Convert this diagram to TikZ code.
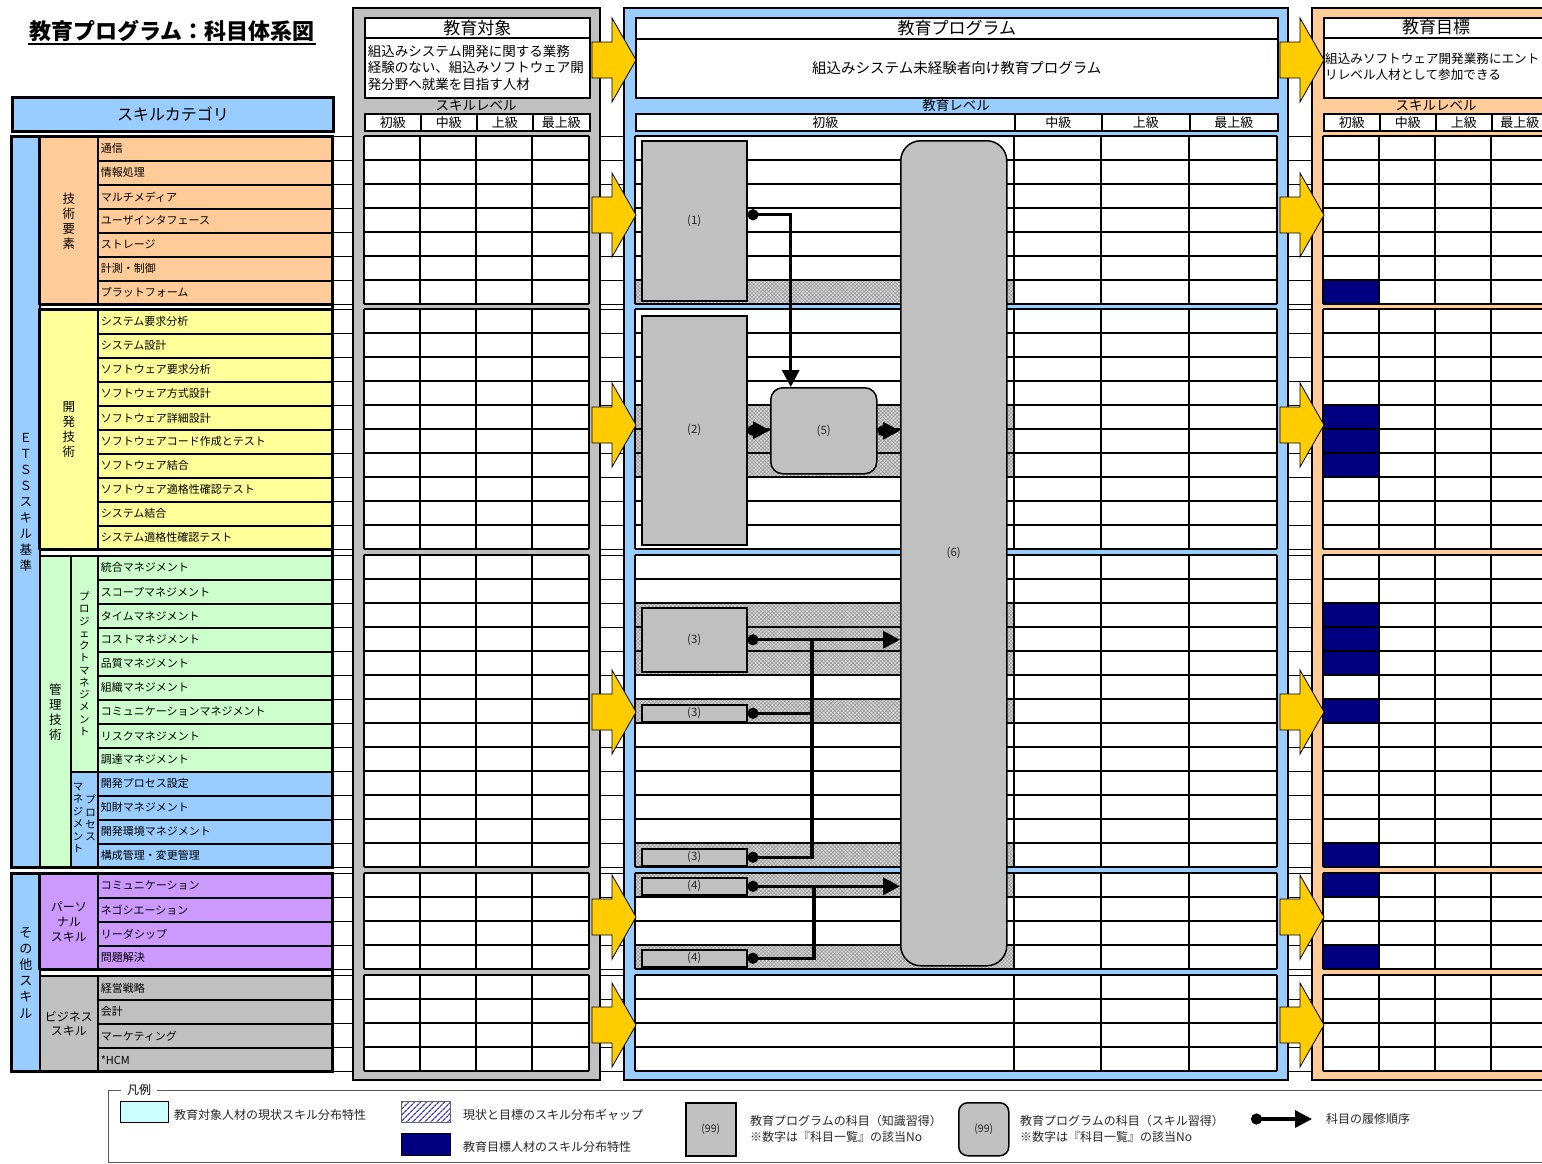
\documentclass[tikz,border=0pt]{standalone}
\usepackage{fontspec}
\setmainfont{Noto Sans CJK JP}
\usetikzlibrary{patterns.meta,arrows.meta}
\definecolor{techc}{HTML}{FFCC99}
\definecolor{devc}{HTML}{FFFF99}
\definecolor{pmc}{HTML}{CCFFCC}
\definecolor{bluec}{HTML}{99CCFF}
\definecolor{persc}{HTML}{CC99FF}
\definecolor{busc}{HTML}{C0C0C0}
\definecolor{navyc}{HTML}{000080}
\definecolor{arrowc}{HTML}{FFCC00}
\definecolor{cyanc}{HTML}{CCFFFF}
\definecolor{hatchc}{HTML}{3333CC}
\newcommand{\myfs}[2]{\fontsize{#1}{#2}\selectfont}
\tikzset{
  itemcell/.style={draw=black, line width=1.6pt, anchor=north west, minimum width=235pt, minimum height=24pt, text width=229pt, inner xsep=3pt, inner ysep=0pt, align=left, font=\myfs{11}{13}},
  catbox/.style={draw=black, line width=1.6pt, anchor=north west, inner sep=0pt, align=center},
  plain/.style={inner sep=0pt, align=center},
  hdr/.style={draw=black, line width=1.6pt, fill=white, minimum height=17pt, inner sep=0pt, anchor=north west, font=\myfs{13}{15}},
  titbox/.style={draw=black, line width=1.6pt, fill=white, inner sep=0pt, anchor=north west},
  subj/.style={draw=black, line width=1.5pt, fill=busc, anchor=north west, inner sep=0pt, font=\myfs{11.5}{12}, text=black!85},
  conn/.style={line width=3.3pt, {Circle[length=11pt,width=11pt]}-{Triangle[length=17pt,width=17pt]}},
  branch/.style={line width=3.3pt, {Circle[length=11pt,width=11pt]}-},
  gridl/.style={line width=1.6pt, black},
  gapfill/.style={fill=gray!28, postaction={pattern={Hatch[angle=45,distance=2.6pt,line width=0.55pt]}, pattern color=gray!85}},
  yarrow/.pic={\draw[line width=0.8pt, fill=arrowc] (0,-18) -- (20,-18) -- (20,-42) -- (44,0) -- (20,42) -- (20,18) -- (0,18) -- cycle;},
  legtext/.style={anchor=west, inner sep=0pt, font=\myfs{12}{16}, align=left, text=black!85},
}
\begin{document}
\begin{tikzpicture}[x=1pt,y=-1pt]
\useasboundingbox (0,0) rectangle (1542,1163);
\fill[white] (0,0) rectangle (1542,1163);

% title
\node[inner sep=1pt, font=\bfseries\myfs{22}{24}] (title) at (172,31) {教育プログラム：科目体系図};
\draw[line width=1.5pt] ([yshift=-1pt]title.south west) -- ([yshift=-1pt]title.south east);

% background row lines between panels
\foreach \ty/\nr in {136/7,309/10,555/13,873/4,975/4}{
  \foreach \kk in {0,...,\nr}{
    \draw[line width=1pt] (332,\ty+24*\kk) -- (1312,\ty+24*\kk);
  }
}

% panels
\draw[line width=1.6pt, fill=busc] (353,8) rectangle (600,1080);
\draw[line width=1.6pt, fill=bluec] (624,8) rectangle (1288,1080);
\draw[line width=1.6pt, fill=techc] (1312,8) rectangle (1560,1080);

% panel titles
\node[titbox, minimum width=225pt, minimum height=20pt, font=\myfs{17}{19}] (p1t) at (364,17) {教育対象};
\node[titbox, minimum width=225pt, minimum height=60pt, text width=219pt, align=left, font=\myfs{13.5}{16.5}] (p1d) at (364,37) {組込みシステム開発に関する業務\\経験のない、組込みソフトウェア開\\発分野へ就業を目指す人材};
\node[titbox, minimum width=642pt, minimum height=21pt, font=\myfs{17}{19}] (p2t) at (635,17) {教育プログラム};
\node[titbox, minimum width=642pt, minimum height=59pt, font=\myfs{14.5}{17}] (p2d) at (635,38) {組込みシステム未経験者向け教育プログラム};
\node[titbox, minimum width=240pt, minimum height=20pt] (p3t) at (1323,17) {};
\node[plain, font=\myfs{17}{19}] (p3tt) at (1436,27) {教育目標};
\node[titbox, minimum width=240pt, minimum height=60pt] (p3d) at (1323,37) {};
\node[anchor=west, inner sep=0pt, align=left, font=\myfs{12.6}{16}] (p3dt) at (1325,67) {組込みソフトウェア開発業務にエント\\リレベル人材として参加できる};

\node[plain, font=\myfs{13.5}{15}] (p1l) at (476,105) {スキルレベル};
\node[plain, font=\myfs{13.5}{15}] (p2l) at (956,105) {教育レベル};
\node[plain, font=\myfs{13.5}{15}] (p3l) at (1436,105) {スキルレベル};

% header rows
\foreach \xx/\ww/\hlab [count=\i] in {364/56/初級,420/56/中級,476/56/上級,532/57/最上級}
  \node[hdr, minimum width=\ww] (ha\i) at (\xx,113) {\hlab};
\foreach \xx/\ww/\hlab [count=\i] in {635/379/初級,1014/87/中級,1101/88/上級,1189/88/最上級}
  \node[hdr, minimum width=\ww] (hb\i) at (\xx,113) {\hlab};
\foreach \xx/\ww/\hlab [count=\i] in {1323/56/初級,1379/56/中級,1435/56/上級,1491/56/最上級}
  \node[hdr, minimum width=\ww] (hc\i) at (\xx,113) {\hlab};

% block fills
\foreach \ty/\nr in {136/7,309/10,555/13,873/4,975/4}{
  \fill[white] (364,\ty) rectangle (589,\ty+24*\nr);
  \fill[white] (635,\ty) rectangle (1277,\ty+24*\nr);
  \fill[white] (1323,\ty) rectangle (1560,\ty+24*\nr);
}
% gap rows and target rows
\foreach \ya/\yb in {280/304,405/477,603/675,699/723,843/867,873/897,945/969}{
  \path[gapfill] (635,\ya) rectangle (1014,\yb);
  \fill[navyc] (1323,\ya) rectangle (1379,\yb);
}
% grid lines
\foreach \ty/\nr in {136/7,309/10,555/13,873/4,975/4}{
  \foreach \kk in {0,...,\nr}{
    \draw[gridl] (364,\ty+24*\kk) -- (589,\ty+24*\kk);
    \draw[gridl] (635,\ty+24*\kk) -- (1277,\ty+24*\kk);
    \draw[gridl] (1323,\ty+24*\kk) -- (1560,\ty+24*\kk);
  }
  \foreach \xx in {364,420,476,532,589,635,1014,1101,1189,1277,1323,1379,1435,1491}{
    \draw[gridl] (\xx,\ty) -- (\xx,\ty+24*\nr);
  }
}

% subjects
\node[subj, minimum width=105, minimum height=160] (n1) at (641,140) {(1)};
\node[subj, minimum width=105, minimum height=229] (n2) at (641,315) {(2)};
\node[subj, rounded corners=12pt, minimum width=106, minimum height=86] (n5) at (770,387) {(5)};
\node[subj, rounded corners=20pt, minimum width=106, minimum height=825] (n6) at (900,140) {(6)};
\node[subj, minimum width=105, minimum height=64] (n3a) at (641,607) {(3)};
\node[subj, minimum width=105, minimum height=17] (n3b) at (641,704) {(3)};
\node[subj, minimum width=105, minimum height=17] (n3c) at (641,848) {(3)};
\node[subj, minimum width=105, minimum height=17] (n4a) at (641,877) {(4)};
\node[subj, minimum width=105, minimum height=17] (n4b) at (641,949) {(4)};

% connectors
\draw[conn] ([yshift=6pt]n1.east) -| ([xshift=-33pt]n5.north);
\draw[conn] (n2.east) -- (n2.east -| n5.west);
\draw[conn] (n5.east) -- (n5.east -| n6.west);
\draw[conn] (n3a.east) -- (n3a.east -| n6.west);
\coordinate (j3) at (812,639);
\draw[branch] (n3b.east) -| (j3);
\draw[branch] (n3c.east) -| (j3);
\draw[conn] (n4a.east) -- (n4a.east -| n6.west);
\coordinate (j4) at (814,885.5);
\draw[branch] (n4b.east) -| (j4);

% block arrows
\foreach \yy in {60,215,425,712,917,1025}{
  \pic at (592,\yy) {yarrow};
  \pic at (1280,\yy) {yarrow};
}

% left: skill categories
\node[draw, line width=3pt, fill=bluec, anchor=north west, minimum width=321pt, minimum height=34pt, inner sep=0pt, font=\myfs{16}{18}] (skcat) at (11,96) {スキルカテゴリ};

\node[catbox, fill=bluec, minimum width=28, minimum height=731, font=\myfs{12.5}{16}] (cetss) at (11,136) {Ｅ\\Ｔ\\Ｓ\\Ｓ\\ス\\キ\\ル\\基\\準};
\node[catbox, fill=techc, minimum width=58, minimum height=168, font=\myfs{12.5}{15}] (ctech) at (39,136) {技\\術\\要\\素};
\node[catbox, fill=devc, minimum width=58, minimum height=240, font=\myfs{12.5}{15}] (cdev) at (39,309) {開\\発\\技\\術};
\node[catbox, fill=pmc, minimum width=31, minimum height=312, font=\myfs{12.5}{15}] (cmgmt) at (39,555) {管\\理\\技\\術};
\node[catbox, fill=pmc, minimum width=27, minimum height=216, font=\myfs{10.5}{12.27}] (cpm) at (70,555) {プ\\ロ\\ジ\\ェ\\ク\\ト\\マ\\ネ\\ジ\\メ\\ン\\ト};
\node[catbox, fill=bluec, minimum width=27, minimum height=96] (cproc) at (70,771) {};
\node[plain, font=\myfs{10.5}{12.4}] (procr) at (90.5,818) {プ\\ロ\\セ\\ス};
\node[plain, font=\myfs{10.5}{12.4}] (procl) at (78,818) {マ\\ネ\\ジ\\メ\\ン\\ト};

\foreach \txt [count=\i from 0] in {通信,情報処理,マルチメディア,ユーザインタフェース,ストレージ,計測・制御,プラットフォーム}
  \node[itemcell, fill=techc] (it\i) at (97,136+24*\i) {\txt};
\foreach \txt [count=\i from 0] in {システム要求分析,システム設計,ソフトウェア要求分析,ソフトウェア方式設計,ソフトウェア詳細設計,ソフトウェアコード作成とテスト,ソフトウェア結合,ソフトウェア適格性確認テスト,システム結合,システム適格性確認テスト}
  \node[itemcell, fill=devc] (id\i) at (97,309+24*\i) {\txt};
\foreach \txt [count=\i from 0] in {統合マネジメント,スコープマネジメント,タイムマネジメント,コストマネジメント,品質マネジメント,組織マネジメント,コミュニケーションマネジメント,リスクマネジメント,調達マネジメント}
  \node[itemcell, fill=pmc] (im\i) at (97,555+24*\i) {\txt};
\foreach \txt [count=\i from 0] in {開発プロセス設定,知財マネジメント,開発環境マネジメント,構成管理・変更管理}
  \node[itemcell, fill=bluec] (iq\i) at (97,771+24*\i) {\txt};

\node[catbox, fill=bluec, minimum width=28, minimum height=198, font=\myfs{13}{16.2}] (cother) at (11,873) {そ\\の\\他\\ス\\キ\\ル};
\node[catbox, fill=persc, minimum width=58, minimum height=96, font=\myfs{12}{15}] (cpers) at (39,873) {パーソ\\ナル\\スキル};
\node[catbox, fill=busc, minimum width=58, minimum height=96, font=\myfs{12}{14.6}] (cbus) at (39,975) {ビジネス\\スキル};
\foreach \txt [count=\i from 0] in {コミュニケーション,ネゴシエーション,リーダシップ,問題解決}
  \node[itemcell, fill=persc] (ip\i) at (97,873+24*\i) {\txt};
\foreach \txt [count=\i from 0] in {経営戦略,会計,マーケティング,*HCM}
  \node[itemcell, fill=busc] (ib\i) at (97,975+24*\i) {\txt};

\draw[line width=2.5pt] (39,136) rectangle (332,304);
\draw[line width=2.5pt] (39,309) rectangle (332,549);
\draw[line width=3pt] (11,136) rectangle (332,867);
\draw[line width=2.5pt] (39,873) rectangle (332,969);
\draw[line width=3pt] (11,873) rectangle (332,1071);

% legend
\draw[line width=1pt, black!65] (121,1090) -- (108,1090) -- (108,1162) -- (1545,1162);
\draw[line width=1pt, black!65] (157,1090) -- (1545,1090);
\node[inner sep=0pt, font=\myfs{12}{14}] (legt) at (139,1090) {凡例};
\node[draw, line width=1pt, fill=cyanc, anchor=north west, minimum width=48, minimum height=21, inner sep=0pt] (lg1) at (120,1101) {};
\node[legtext] (lg1t) at (174,1115) {教育対象人材の現状スキル分布特性};
\node[draw=black!60, line width=1pt, anchor=north west, minimum width=49, minimum height=21, inner sep=0pt, pattern={Lines[angle=45,distance=4pt,line width=1.3pt]}, pattern color=hatchc] (lg2) at (401,1101) {};
\node[legtext] (lg2t) at (463,1115) {現状と目標のスキル分布ギャップ};
\node[draw, line width=1pt, fill=navyc, anchor=north west, minimum width=49, minimum height=22, inner sep=0pt] (lg3) at (401,1133) {};
\node[legtext] (lg3t) at (463,1147) {教育目標人材のスキル分布特性};
\node[subj, minimum width=50, minimum height=53, font=\myfs{10.5}{12}] (lg4) at (685,1102) {(99)};
\node[legtext] (lg4t) at (750,1129) {教育プログラムの科目（知識習得）\\※数字は『科目一覧』の該当No};
\node[subj, rounded corners=9pt, minimum width=50, minimum height=53, font=\myfs{10.5}{12}] (lg5) at (958,1102) {(99)};
\node[legtext] (lg5t) at (1020,1129) {教育プログラムの科目（スキル習得）\\※数字は『科目一覧』の該当No};
\coordinate (la) at (1251,1119);
\coordinate (lb) at (1312,1119);
\draw[conn] (la) -- (lb);
\node[legtext] (lg6t) at (1326,1119) {科目の履修順序};
\end{tikzpicture}
\end{document}
